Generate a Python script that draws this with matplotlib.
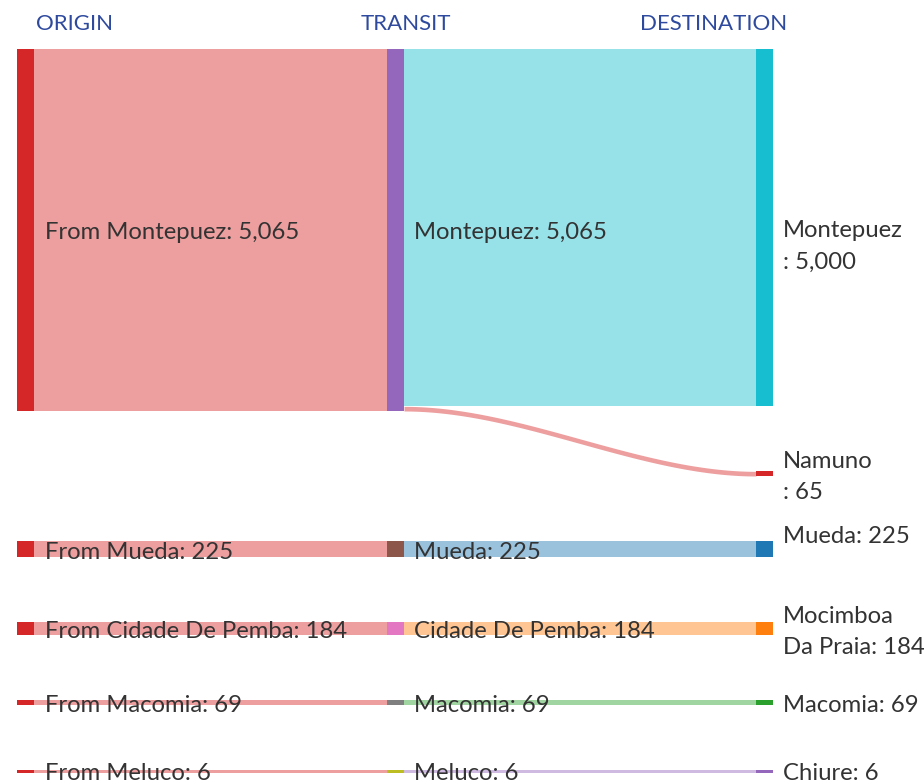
import numpy as np
import matplotlib.pyplot as plt
from matplotlib.patches import Rectangle
from matplotlib.colors import to_rgb

plt.rcParams['font.family'] = ['Lato', 'DejaVu Sans']

# data
origins = ["Montepuez", "Mueda", "Cidade De Pemba", "Macomia", "Meluco"]
transits = ["Montepuez", "Mueda", "Cidade De Pemba", "Macomia", "Meluco"]
origin_vals = [5065, 225, 184, 69, 6]
destinations = ["Montepuez", "Namuno", "Mueda", "Mocimboa Da Praia", "Macomia", "Chiure"]
dest_vals = [5000, 65, 225, 184, 69, 6]
# transit -> destination flows
flow_src = [0, 0, 1, 2, 3, 4]
flow_dst = [0, 1, 2, 3, 4, 5]
flow_vals = [5000, 65, 225, 184, 69, 6]
dest_labels = [" \nMontepuez\n: 5,000", "Namuno\n: 65", "Mueda: 225\n ",
               "Mocimboa\nDa Praia: 184", "Macomia: 69", "Chiure: 6"]
headers = ["ORIGIN", "TRANSIT", "DESTINATION"]

origin_color = "#d62728"
transit_colors = ["#9467bd", "#8c564b", "#e377c2", "#7f7f7f", "#bcbd22"]
dest_colors = ["#17becf", "#d62728", "#1f77b4", "#ff7f0e", "#2ca02c", "#9467bd"]


def light(c, a=0.45):
    r = np.array(to_rgb(c))
    return tuple(r * a + (1 - a))


# layout (pixels)
W, H = 924, 781
px = 0.07147          # pixels per unit
top_px = 49
gap = 65 / px
hmin = 2.5 / px
node_w = 17
col_x = [17, 387, 756]
txt_dy = 3 / px

# destination column stacked top-down
dest_top = []
y = 0
for v in dest_vals:
    dest_top.append(y)
    y += v + gap
# transit / origin aligned with first destination of each transit
transit_top = []
for i in range(len(transits)):
    d = flow_dst[flow_src.index(i)]
    transit_top.append(dest_top[d])
origin_top = transit_top

fig = plt.figure(figsize=(W / 100, H / 100), dpi=100)
ax = fig.add_axes([0, 0, 1, 1])
ax.set_xlim(0, W)
ax.set_ylim((H - top_px) / px, -top_px / px)
ax.axis('off')


def band(x0, x1, y0, y1, h, color):
    xs = np.linspace(x0, x1, 200)
    t = (xs - x0) / (x1 - x0)
    s = 3 * t ** 2 - 2 * t ** 3
    yt = y0 + (y1 - y0) * s
    ax.fill_between(xs, yt, yt + h, color=color, lw=0, zorder=1)


# origin -> transit links
for i, v in enumerate(origin_vals):
    band(col_x[0] + node_w, col_x[1], origin_top[i], transit_top[i],
         max(v, hmin), light(origin_color))

# transit -> destination links
out_off = [0] * len(transits)
for s, d, v in zip(flow_src, flow_dst, flow_vals):
    band(col_x[1] + node_w, col_x[2], transit_top[s] + out_off[s], dest_top[d],
         max(v, hmin), light(dest_colors[d]))
    out_off[s] += v

# nodes
for i, v in enumerate(origin_vals):
    ax.add_patch(Rectangle((col_x[0], origin_top[i]), node_w, max(v, hmin),
                           color=origin_color, lw=0, zorder=2))
    ax.add_patch(Rectangle((col_x[1], transit_top[i]), node_w, max(v, hmin),
                           color=transit_colors[i], lw=0, zorder=2))
    ax.text(col_x[0] + node_w + 11, origin_top[i] + v / 2 + txt_dy,
            f"From {origins[i]}: {v:,}", fontsize=17.2, color='#333333',
            va='center', ha='left', zorder=3)
    ax.text(col_x[1] + node_w + 10, transit_top[i] + v / 2 + txt_dy,
            f"{transits[i]}: {v:,}", fontsize=17.2, color='#333333',
            va='center', ha='left', zorder=3)

for i, v in enumerate(dest_vals):
    ax.add_patch(Rectangle((col_x[2], dest_top[i]), node_w, max(v, hmin),
                           color=dest_colors[i], lw=0, zorder=2))
    ax.text(col_x[2] + node_w + 10, dest_top[i] + v / 2 + txt_dy, dest_labels[i],
            fontsize=17.2, color='#333333', va='center', ha='left',
            linespacing=1.6, zorder=3)

# column headers
for hx, txt in zip([36, 361, 640], headers):
    ax.text(hx, -25 / px, txt, fontsize=16, color='#2e4a9e',
            va='center', ha='left')

fig.savefig("out.png", dpi=100)
